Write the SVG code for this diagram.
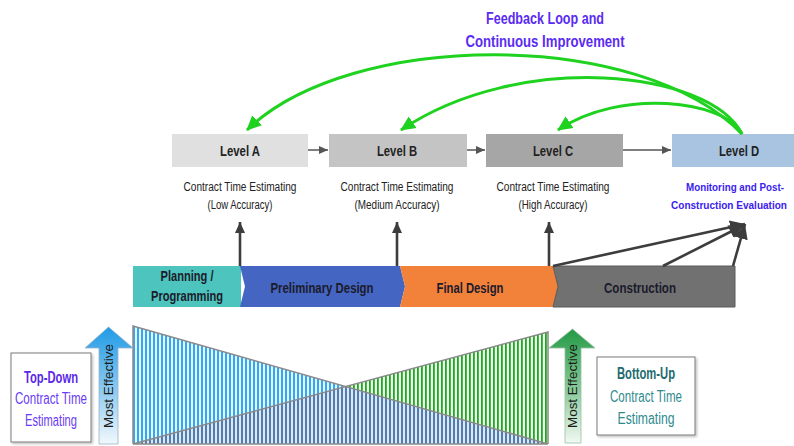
<svg xmlns="http://www.w3.org/2000/svg" width="794" height="446" viewBox="0 0 794 446">
  <style>
    text { font-family: "Liberation Sans", Arial, sans-serif; }
    .lvl { font-size: 15px; font-weight: bold; fill: #222; text-anchor: middle; }
    .cap { font-size: 12px; fill: #222; text-anchor: middle; }
    .mon { font-size: 10.5px; font-weight: bold; fill: #3a22f0; text-anchor: middle; }
    .phase { font-size: 14px; font-weight: bold; fill: #1b1b2b; text-anchor: middle; }
    .fb { font-size: 16px; font-weight: bold; fill: #5a2bf2; text-anchor: middle; }
    .flow { fill: none; stroke: #555; stroke-width: 1.5; }
    .up { fill: none; stroke: #3d3d3d; stroke-width: 2.6; }
    .loop { fill: none; stroke: #1fd21f; stroke-width: 3; }
    .eff { font-size: 13px; fill: #1a1a1a; text-anchor: middle; }
    .box { fill: #fff; stroke: #7a7a7a; stroke-width: 1; }
    .tri { fill: none; stroke: #8a8a8a; stroke-width: 1.5; }
  </style>
  <defs>
    <marker id="ah-small" markerUnits="userSpaceOnUse" markerWidth="10" markerHeight="10" refX="9" refY="5" orient="auto">
      <path d="M0,1 L9,5 L0,9 z" fill="#555"/>
    </marker>
    <marker id="ah-up" markerUnits="userSpaceOnUse" markerWidth="12" markerHeight="12" refX="11" refY="6" orient="auto">
      <path d="M0,1 L11,6 L0,11 z" fill="#3d3d3d"/>
    </marker>
    <marker id="ah-big" markerUnits="userSpaceOnUse" markerWidth="16" markerHeight="16" refX="15" refY="8" orient="auto">
      <path d="M0,1 L15,8 L0,15 z" fill="#3d3d3d"/>
    </marker>
    <marker id="ah-green" markerUnits="userSpaceOnUse" markerWidth="16" markerHeight="16" refX="14" refY="8" orient="auto">
      <path d="M0,1 L15,8 L0,15 z" fill="#1fd21f"/>
    </marker>
    <pattern id="stripe-blue" patternUnits="userSpaceOnUse" x="133" y="0" width="4" height="10">
      <rect width="4" height="10" fill="#eaf6fe"/>
      <rect x="0" width="2" height="10" fill="#30a8f2"/>
    </pattern>
    <pattern id="stripe-green" patternUnits="userSpaceOnUse" x="133" y="0" width="4" height="10">
      <rect width="4" height="10" fill="#f4fbf4"/>
      <rect x="0" width="1.8" height="10" fill="#1aaa1a"/>
    </pattern>
    <pattern id="stripe-mix" patternUnits="userSpaceOnUse" x="133" y="0" width="4" height="10">
      <rect width="4" height="10" fill="#dfe8f2"/>
      <rect x="0" width="2" height="10" fill="#4d7db2"/>
    </pattern>
    <linearGradient id="grad-blue" x1="0" y1="0" x2="0" y2="1">
      <stop offset="0" stop-color="#1f9be6"/>
      <stop offset="0.55" stop-color="#8fcbf0"/>
      <stop offset="1" stop-color="#f2f8fc"/>
    </linearGradient>
    <linearGradient id="grad-green" x1="0" y1="0" x2="0" y2="1">
      <stop offset="0" stop-color="#239a45"/>
      <stop offset="0.55" stop-color="#8ccb9c"/>
      <stop offset="1" stop-color="#f2f9f3"/>
    </linearGradient>
    <filter id="shadow" x="-10%" y="-10%" width="130%" height="130%">
      <feDropShadow dx="1.5" dy="1.5" stdDeviation="1.2" flood-color="#000" flood-opacity="0.25"/>
    </filter>
  </defs>

  <!-- feedback title -->
  <g id="feedback-label">
    <text class="fb" x="545" y="24" textLength="118" lengthAdjust="spacingAndGlyphs">Feedback Loop and</text>
    <text class="fb" x="545" y="47" textLength="159" lengthAdjust="spacingAndGlyphs">Continuous Improvement</text>
  </g>

  <!-- estimate levels -->
  <g id="level-a">
    <rect x="172" y="134" width="136" height="33" fill="#e0e0e0"/>
    <text class="lvl" x="240" y="156" textLength="40" lengthAdjust="spacingAndGlyphs">Level A</text>
    <text class="cap" x="240" y="191" textLength="113" lengthAdjust="spacingAndGlyphs">Contract Time Estimating</text>
    <text class="cap" x="240" y="209" textLength="65" lengthAdjust="spacingAndGlyphs">(Low Accuracy)</text>
  </g>
  <g id="level-b">
    <rect x="329" y="134" width="138" height="33" fill="#c4c4c4"/>
    <text class="lvl" x="397" y="156" textLength="40" lengthAdjust="spacingAndGlyphs">Level B</text>
    <text class="cap" x="397" y="191" textLength="113" lengthAdjust="spacingAndGlyphs">Contract Time Estimating</text>
    <text class="cap" x="397" y="209" textLength="85" lengthAdjust="spacingAndGlyphs">(Medium Accuracy)</text>
  </g>
  <g id="level-c">
    <rect x="486" y="134" width="137" height="33" fill="#a6a6a6"/>
    <text class="lvl" x="553" y="156" textLength="40" lengthAdjust="spacingAndGlyphs">Level C</text>
    <text class="cap" x="553" y="191" textLength="113" lengthAdjust="spacingAndGlyphs">Contract Time Estimating</text>
    <text class="cap" x="553" y="209" textLength="69" lengthAdjust="spacingAndGlyphs">(High Accuracy)</text>
  </g>
  <g id="level-d">
    <rect x="672" y="134" width="130" height="33" fill="#a8c4e0"/>
    <text class="lvl" x="739" y="156" textLength="40" lengthAdjust="spacingAndGlyphs">Level D</text>
    <text class="mon" x="735" y="191" textLength="98" lengthAdjust="spacingAndGlyphs">Monitoring and Post-</text>
    <text class="mon" x="729" y="209" textLength="116" lengthAdjust="spacingAndGlyphs">Construction Evaluation</text>
  </g>

  <!-- project phases -->
  <g id="phase-planning">
    <rect x="133" y="266" width="108" height="41" fill="#4dc4bd"/>
    <text class="phase" x="187" y="281" textLength="53" lengthAdjust="spacingAndGlyphs">Planning /</text>
    <text class="phase" x="187" y="301" textLength="72" lengthAdjust="spacingAndGlyphs">Programming</text>
  </g>
  <g id="phase-preliminary">
    <polygon points="240,266 400,266 405,286.5 400,307 240,307 245,286.5" fill="#4465c2"/>
    <text class="phase" x="322" y="293" textLength="103" lengthAdjust="spacingAndGlyphs">Preliminary Design</text>
  </g>
  <g id="phase-final">
    <polygon points="400,266 553,266 558,286.5 553,307 400,307 405,286.5" fill="#f2813a"/>
    <text class="phase" x="470" y="293" textLength="67" lengthAdjust="spacingAndGlyphs">Final Design</text>
  </g>
  <g id="phase-construction">
    <polygon points="553,266 735,266 735,307 553,307 558,286.5" fill="#717171" stroke="#5a5a5a" stroke-width="1"/>
    <text class="phase" x="640" y="293" textLength="72" lengthAdjust="spacingAndGlyphs">Construction</text>
  </g>

  <!-- effectiveness wedges -->
  <g id="top-down-wedge">
    <polygon points="133,326 548,444 133,444" fill="url(#stripe-blue)"/>
  </g>
  <g id="bottom-up-wedge">
    <polygon points="133,444 548,332 548,444" fill="url(#stripe-green)"/>
  </g>
  <g id="wedge-overlap">
    <polygon points="133,444 346,386.5 548,444" fill="url(#stripe-mix)"/>
    <path class="tri" d="M133,444 V326 L548,444 M133,444 L548,332 V444 M133,444 H548"/>
  </g>

  <g id="top-down-arrow">
    <polygon points="99,444 99,348 85,348 108.5,327 133,348 118,348 118,444" fill="url(#grad-blue)" stroke="#9bb3c5" stroke-width="0.8"/>
    <text class="eff" transform="translate(113,386) rotate(-90)" textLength="84" lengthAdjust="spacingAndGlyphs">Most Effective</text>
  </g>
  <g id="bottom-up-arrow">
    <polygon points="565,443 565,348 549,348 572.5,329 595,348 581,348 581,443" fill="url(#grad-green)" stroke="#9bbfa5" stroke-width="0.8"/>
    <text class="eff" transform="translate(577,386) rotate(-90)" textLength="84" lengthAdjust="spacingAndGlyphs">Most Effective</text>
  </g>

  <g id="top-down-label">
    <rect class="box" x="11" y="353" width="80" height="89" filter="url(#shadow)"/>
    <text x="51" y="383" text-anchor="middle" font-size="16" font-weight="bold" fill="#5b27e8" textLength="54" lengthAdjust="spacingAndGlyphs">Top-Down</text>
    <text x="51" y="404" text-anchor="middle" font-size="16" fill="#6a3cf3" textLength="72" lengthAdjust="spacingAndGlyphs">Contract Time</text>
    <text x="51" y="426" text-anchor="middle" font-size="16" fill="#6a3cf3" textLength="52" lengthAdjust="spacingAndGlyphs">Estimating</text>
  </g>
  <g id="bottom-up-label">
    <rect class="box" x="597" y="357" width="98" height="78" filter="url(#shadow)"/>
    <text x="646" y="379" text-anchor="middle" font-size="16" font-weight="bold" fill="#1d6a6e" textLength="58" lengthAdjust="spacingAndGlyphs">Bottom-Up</text>
    <text x="646" y="402" text-anchor="middle" font-size="16" fill="#2f8a8f" textLength="72" lengthAdjust="spacingAndGlyphs">Contract Time</text>
    <text x="646" y="424" text-anchor="middle" font-size="16" fill="#2f8a8f" textLength="57" lengthAdjust="spacingAndGlyphs">Estimating</text>
  </g>

  <!-- connectors -->
  <g id="connectors">
    <line class="flow" x1="308" y1="150" x2="328" y2="150" marker-end="url(#ah-small)"/>
    <line class="flow" x1="467" y1="150" x2="485" y2="150" marker-end="url(#ah-small)"/>
    <line class="flow" x1="623" y1="150" x2="671" y2="150" marker-end="url(#ah-small)"/>

    <line class="up" x1="240" y1="266" x2="240" y2="222" marker-end="url(#ah-up)"/>
    <line class="up" x1="397" y1="266" x2="397" y2="222" marker-end="url(#ah-up)"/>
    <line class="up" x1="549" y1="266" x2="549" y2="222" marker-end="url(#ah-up)"/>

    <line class="up" x1="553" y1="266" x2="745" y2="224" marker-end="url(#ah-big)"/>
    <line class="up" x1="663" y1="266" x2="744" y2="225" marker-end="url(#ah-big)"/>
    <line class="up" x1="733" y1="266" x2="745" y2="224" marker-end="url(#ah-big)"/>

    <path class="loop" d="M742,134 C640,28 350,30 247,130" marker-end="url(#ah-green)"/>
    <path class="loop" d="M742,134 C710,70 520,50 401,130" marker-end="url(#ah-green)"/>
    <path class="loop" d="M742,134 C725,100 620,88 558,130" marker-end="url(#ah-green)"/>
  </g>
</svg>
